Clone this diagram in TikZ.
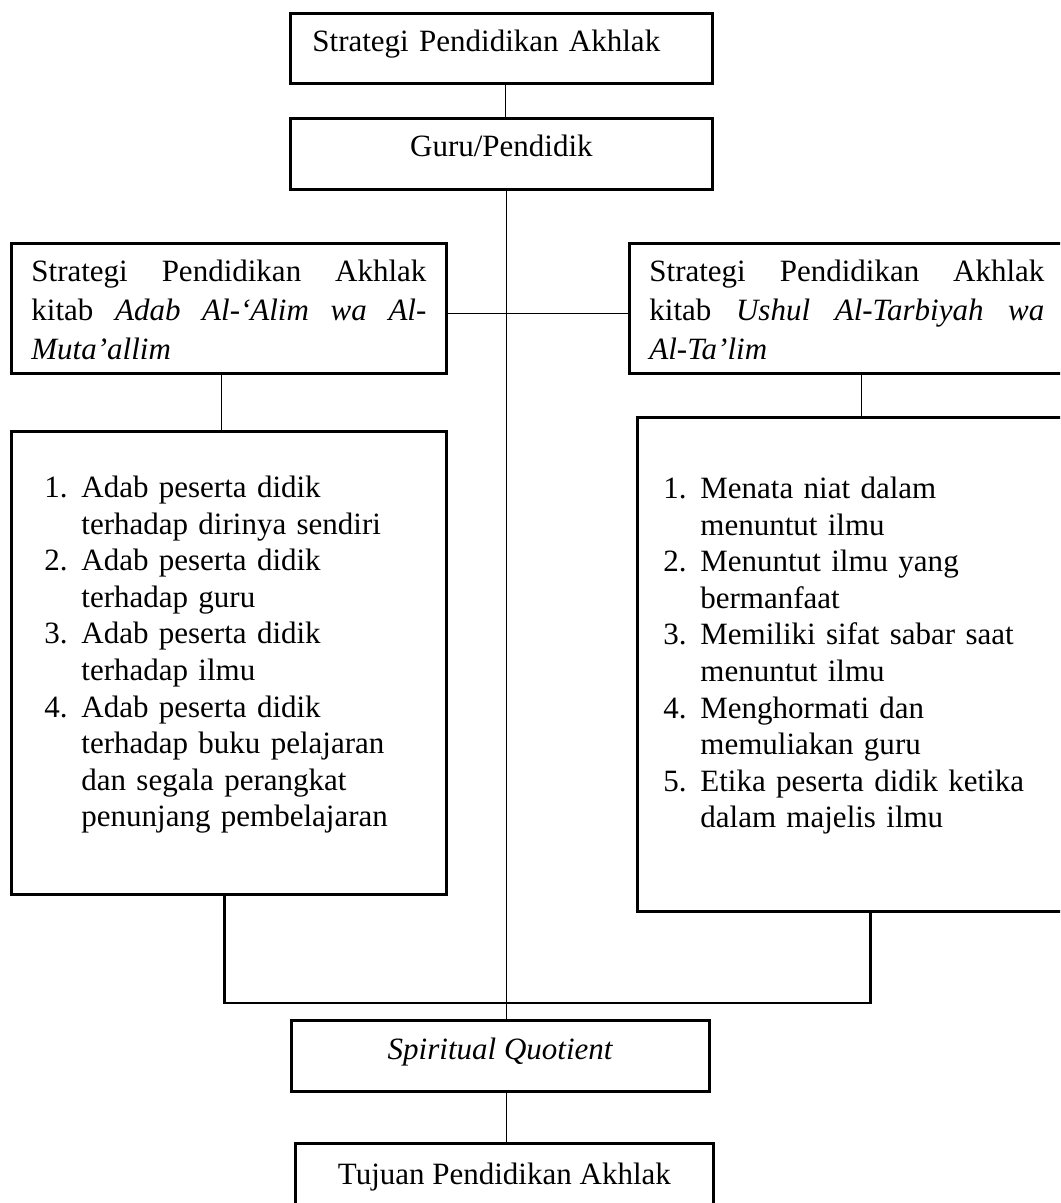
\documentclass[tikz,border=0pt]{standalone}
\usepackage{fontspec}
\setmainfont{Liberation Serif}

\tikzset{
  kotak/.style={draw,line width=1.4pt,anchor=north west,inner ysep=0pt},
  judul/.style={kotak,font=\fontsize{15.5}{19.5}\selectfont},
  daftar/.style={kotak,font=\fontsize{15.5}{18.3}\selectfont,text width=197.5pt,inner xsep=10pt},
  garis/.style={line width=0.8pt}
}

\begin{document}
\begin{tikzpicture}[x=0.5pt,y=-0.5pt]
\useasboundingbox (0,0) rectangle (1060,1203);
\clip (0,0) rectangle (1060,1203);
% kotak atas
\node[judul,text width=189pt,inner xsep=11pt,align=left,text height=19pt,text depth=16pt] (strategi) at (289,12) {Strategi Pendidikan Akhlak};
\node[judul,minimum width=211pt,inner xsep=0pt,text height=19pt,text depth=16.5pt] (guru) at (289,117) {Guru/Pendidik};
% dua kitab
\node[judul,text width=197.5pt,inner xsep=10pt,align=justify,text height=19pt,text depth=46pt] (kiri) at (10,242)
  {Strategi Pendidikan Akhlak\linebreak kitab \textit{Adab Al-‘Alim wa Al-}\linebreak \textit{Muta’allim}};
\node[judul,text width=197.5pt,inner xsep=10pt,align=justify,text height=19pt,text depth=46pt] (kanan) at (628,242)
  {Strategi Pendidikan Akhlak\linebreak kitab \textit{Ushul Al-Tarbiyah wa}\linebreak \textit{Al-Ta’lim}};
\node[daftar,text height=33pt,text depth=198.5pt] (isiKiri) at (10,430)
  {\begin{tabular}[t]{@{\hspace{6.5pt}}p{18.5pt}@{}l@{}}
  1. & Adab peserta didik\\
     & terhadap dirinya sendiri\\
  2. & Adab peserta didik\\
     & terhadap guru\\
  3. & Adab peserta didik\\
     & terhadap ilmu\\
  4. & Adab peserta didik\\
     & terhadap buku pelajaran\\
     & dan segala perangkat\\
     & penunjang pembelajaran
  \end{tabular}};
\node[daftar,text height=40.5pt,text depth=206.5pt] (isiKanan) at (636,416)
  {\begin{tabular}[t]{@{\hspace{3pt}}p{18.5pt}@{}l@{}}
  1. & Menata niat dalam\\
     & menuntut ilmu\\
  2. & Menuntut ilmu yang\\
     & bermanfaat\\
  3. & Memiliki sifat sabar saat\\
     & menuntut ilmu\\
  4. & Menghormati dan\\
     & memuliakan guru\\
  5. & Etika peserta didik ketika\\
     & dalam majelis ilmu
  \end{tabular}};
% kotak bawah
\node[judul,minimum width=209pt,inner xsep=0pt,text height=19.5pt,text depth=16pt] (sq) at (290,1019) {\textit{Spiritual Quotient}};
\node[judul,minimum width=209pt,inner xsep=0pt,text height=20.5pt,text depth=16pt] (tujuan) at (294,1142) {Tujuan Pendidikan Akhlak};
% garis penghubung
\coordinate (poros) at ([xshift=2.5pt]guru.south);
\coordinate (gabung) at (505,1003);
\draw[garis] ([xshift=2pt]strategi.south) -- ([xshift=2pt]guru.north);
\draw[garis] (poros) -- (poros |- sq.north);
\draw[garis] ([yshift=-2.5pt]kiri.east) -- ([yshift=-2.5pt]kanan.west);
\draw[garis] ([xshift=-3.75pt]kiri.south) -- ([xshift=-3.75pt]kiri.south |- isiKiri.north);
\draw[garis] ([xshift=7.25pt]kanan.south) -- ([xshift=7.25pt]kanan.south |- isiKanan.north);
\draw[garis,line width=1.1pt] ([xshift=-2.25pt]isiKiri.south) |- (gabung) -| ([xshift=7.75pt]isiKanan.south);
\draw[garis] ([xshift=3pt]sq.south) -- ([xshift=3pt]sq.south |- tujuan.north);
\end{tikzpicture}
\end{document}
